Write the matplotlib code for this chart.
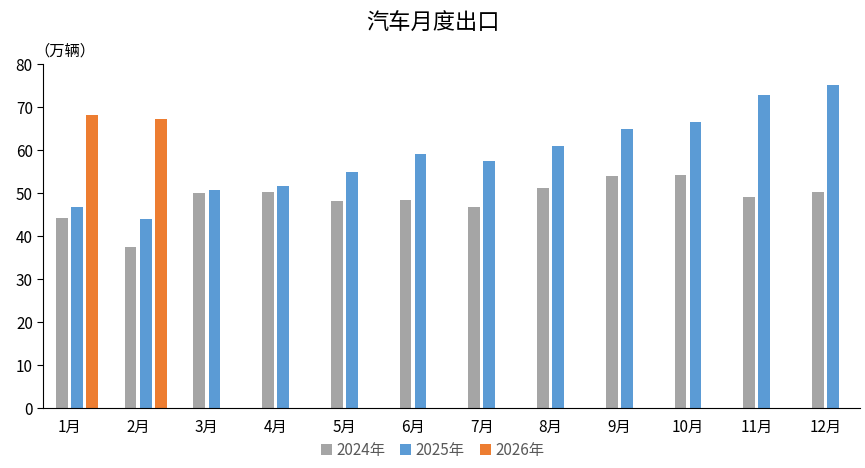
import matplotlib.pyplot as plt
import numpy as np

plt.rcParams['font.family'] = ['Noto Sans CJK SC', 'DejaVu Sans']

months = ['1月', '2月', '3月', '4月', '5月', '6月', '7月', '8月', '9月', '10月', '11月', '12月']
exp_2024 = [44.2, 37.5, 50.1, 50.3, 48.1, 48.3, 46.8, 51.1, 53.9, 54.1, 49.0, 50.3]
exp_2025 = [46.8, 44.0, 50.7, 51.6, 55.0, 59.1, 57.4, 60.9, 65.0, 66.5, 72.8, 75.2]
exp_2026 = [68.1, 67.2]

fig = plt.figure(figsize=(8.65, 4.68), dpi=100)
ax = fig.add_axes([0.05, 0.128, 0.944, 0.735])

x = np.arange(len(months))
w = 0.17
ax.bar(x - 0.11, exp_2024, w, color='#A5A5A5', label='2024年')
ax.bar(x + 0.11, exp_2025, w, color='#5B9BD5', label='2025年')
ax.bar(x[:len(exp_2026)] + 0.33, exp_2026, w, color='#ED7D31', label='2026年')

ax.set_xlim(-0.38, 11.5)
ax.set_ylim(0, 80)
ax.set_yticks(range(0, 81, 10))
ax.set_xticks(x)
ax.set_xticklabels(months)
ax.tick_params(axis='x', length=0, labelsize=11, pad=8)
ax.tick_params(axis='y', length=4, labelsize=11, direction='out')
for s in ['top', 'right']:
    ax.spines[s].set_visible(False)
for s in ['left', 'bottom']:
    ax.spines[s].set_color('black')

fig.text(0.5, 0.95, '汽车月度出口', ha='center', va='center', fontsize=16)
fig.text(0.04, 0.89, '（万辆）', ha='left', va='center', fontsize=11)
fig.legend(loc='lower center', ncol=3, frameon=False, fontsize=11,
           bbox_to_anchor=(0.5, -0.01), handlelength=0.7, handleheight=0.7,
           columnspacing=1.0, handletextpad=0.3, labelcolor='#595959')

fig.savefig('out.png')
